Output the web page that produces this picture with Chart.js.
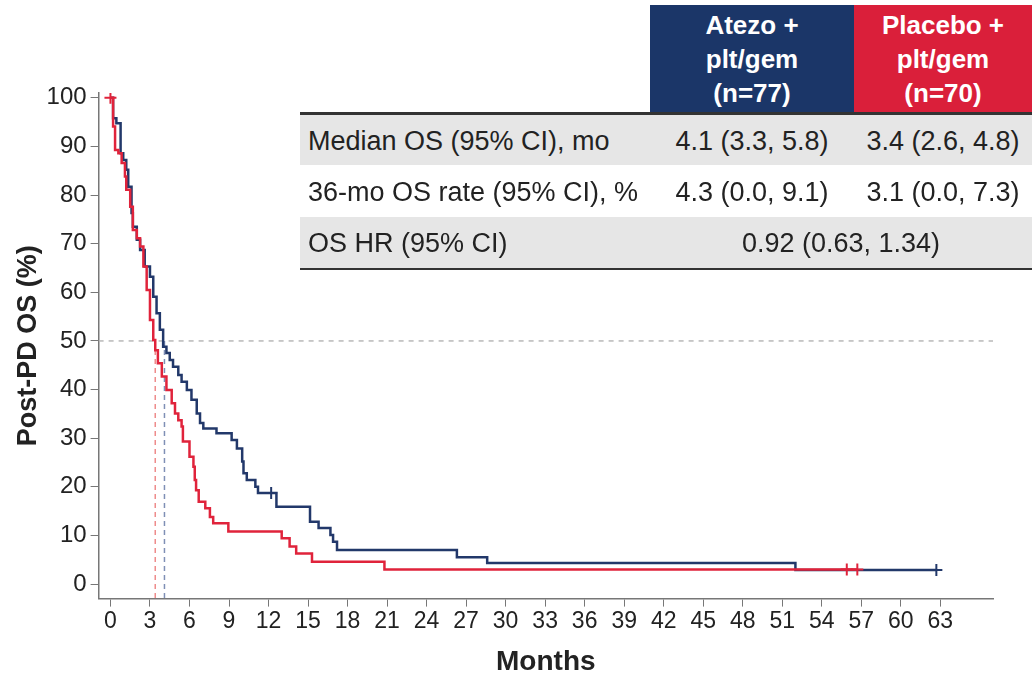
<!DOCTYPE html>
<html>
<head>
<meta charset="utf-8">
<script src="https://cdn.jsdelivr.net/npm/chart.js@4"></script>
<style>
  body { margin: 0; background: #fff; }
  #wrap { position: relative; width: 1032px; height: 679px; font-family: "Liberation Sans", Arial, sans-serif; }
  #chart { position: absolute; left: 0; top: 0; }
  .hdr { position: absolute; top: 5px; height: 107px; color: #fff; font-weight: bold; font-size: 26px;
         line-height: 34px; text-align: center; padding-top: 3px; box-sizing: border-box; }
  .row { position: absolute; left: 300px; width: 732px; font-size: 27px; color: #222; }
  .row span { position: absolute; top: 0; white-space: nowrap; }
</style>
</head>
<body>
<div id="wrap">
  <canvas id="chart" width="1032" height="679"></canvas>
  <div class="hdr" style="left:650px;width:204px;background:#1b3668;">Atezo +<br>plt/gem<br>(n=77)</div>
  <div class="hdr" style="left:854px;width:178px;background:#da1f3a;">Placebo +<br>plt/gem<br>(n=70)</div>
  <div style="position:absolute;left:300px;top:112px;width:732px;height:3px;background:#333;"></div>
  <div class="row" style="top:115px;height:50px;background:#e6e6e6;line-height:52px;">
    <span style="left:8px;">Median OS (95% CI), mo</span>
    <span style="left:350px;width:204px;text-align:center;">4.1 (3.3, 5.8)</span>
    <span style="left:554px;width:178px;text-align:center;">3.4 (2.6, 4.8)</span>
  </div>
  <div class="row" style="top:165px;height:52px;background:#fff;line-height:54px;">
    <span style="left:8px;">36-mo OS rate (95% CI), %</span>
    <span style="left:350px;width:204px;text-align:center;">4.3 (0.0, 9.1)</span>
    <span style="left:554px;width:178px;text-align:center;">3.1 (0.0, 7.3)</span>
  </div>
  <div class="row" style="top:217px;height:51px;background:#e6e6e6;line-height:53px;">
    <span style="left:8px;">OS HR (95% CI)</span>
    <span style="left:350px;width:382px;text-align:center;">0.92 (0.63, 1.34)</span>
  </div>
  <div style="position:absolute;left:300px;top:268px;width:732px;height:2px;background:#333;"></div>
</div>
<script>
// Atezo + plt/gem: KM steps (months, % surviving after the step)
const atezoTimes = [0, 0.2, 0.45, 0.77, 0.97, 1.2, 1.35, 1.6, 1.7, 2.0, 2.25, 2.6, 3.0, 3.25, 3.5, 3.75, 4.0, 4.25, 4.5, 4.75,
  5.15, 5.4, 5.8, 6.15, 6.55, 6.8, 7.05, 8.05, 9.2, 9.6, 10.0, 10.1, 10.35, 11.0, 11.2, 12.6, 15.15, 15.8, 16.7, 16.9,
  17.2, 26.3, 28.6, 52.0, 62.7];
const atezoSurv = [100, 95.8, 94.8, 88.6, 87.2, 85.2, 81.7, 76.3, 73.5, 70.8, 68.7, 65.3, 63.2, 59.1, 55.7, 52.3, 48.8, 47.5, 46.1, 44.7,
  43.0, 41.6, 39.9, 37.9, 35.1, 33.1, 32.0, 31.0, 29.6, 27.9, 25.2, 22.8, 21.4, 20.0, 18.7, 15.9, 12.8, 11.5, 10.1, 8.7,
  7.0, 5.5, 4.3, 2.9, 2.9];
// Placebo + plt/gem
const placeboTimes = [0, 0.2, 0.35, 0.6, 0.85, 1.1, 1.2, 1.5, 1.7, 2.0, 2.25, 2.5, 2.75, 3.0, 3.25, 3.4, 3.6, 3.9, 4.25, 4.65,
  4.9, 5.15, 5.4, 5.5, 6.0, 6.3, 6.4, 6.5, 6.7, 7.2, 7.55, 7.8, 8.95, 13.0, 13.6, 14.1, 15.3, 20.8, 56.7];
const placeboSurv = [100, 94.1, 89.3, 88.6, 86.6, 83.8, 81.1, 77.6, 72.8, 71.1, 69.4, 65.3, 60.5, 54.3, 50.2, 48.1, 45.4, 42.7, 39.9, 37.2,
  35.1, 33.7, 32.4, 29.3, 26.2, 24.1, 21.4, 19.3, 16.9, 15.6, 13.8, 12.5, 10.8, 9.4, 7.7, 6.3, 4.6, 3.0, 3.0];

// censoring marks
const atezoCensTimes = [12.2, 62.7];
const atezoCensSurv = [18.7, 2.9];
const placeboCensTimes = [0, 55.9, 56.7];
const placeboCensSurv = [100, 3.0, 3.0];

const medianAtezo = 4.1;
const medianPlacebo = 3.4;

const xTicks = [0, 3, 6, 9, 12, 15, 18, 21, 24, 27, 30, 33, 36, 39, 42, 45, 48, 51, 54, 57, 60, 63];
const yTicks = [0, 10, 20, 30, 40, 50, 60, 70, 80, 90, 100];

const X_MIN = -0.9, X_MAX = 67, Y_MIN = -3, Y_MAX = 101;
const blue = '#22386a';
const red = '#e0233b';

const pts = (xs, ys) => xs.map((x, i) => ({x: x, y: ys[i]}));

new Chart(document.getElementById('chart'), {
  type: 'line',
  data: {
    datasets: [
      {
        data: pts(atezoTimes, atezoSurv),
        borderColor: blue, borderWidth: 2.5, stepped: true, pointRadius: 0, order: 2
      },
      {
        data: pts(placeboTimes, placeboSurv),
        borderColor: red, borderWidth: 2.5, stepped: true, pointRadius: 0, order: 1
      },
      {
        data: pts(atezoCensTimes, atezoCensSurv), showLine: false,
        pointStyle: 'cross', pointRadius: 6, pointBorderWidth: 2, borderColor: blue, order: 0
      },
      {
        data: pts(placeboCensTimes, placeboCensSurv), showLine: false,
        pointStyle: 'cross', pointRadius: 6, pointBorderWidth: 2, borderColor: red, order: 0
      },
      {
        data: [{x: X_MIN, y: 50}, {x: X_MAX, y: 50}],
        borderColor: '#b8b8b8', borderWidth: 1.5, borderDash: [5, 5], pointRadius: 0, order: 5
      },
      {
        data: [{x: medianPlacebo, y: 50}, {x: medianPlacebo, y: Y_MIN}],
        borderColor: '#ee8c8c', borderWidth: 1.5, borderDash: [5, 4], pointRadius: 0, order: 5
      },
      {
        data: [{x: medianAtezo, y: 50}, {x: medianAtezo, y: Y_MIN}],
        borderColor: '#7f8fb5', borderWidth: 1.5, borderDash: [5, 4], pointRadius: 0, order: 5
      }
    ]
  },
  options: {
    responsive: false,
    animation: false,
    layout: { padding: { top: 93, right: 39, bottom: 0, left: 0 } },
    plugins: { legend: { display: false }, tooltip: { enabled: false } },
    scales: {
      x: {
        type: 'linear', min: X_MIN, max: X_MAX,
        afterBuildTicks: s => { s.ticks = xTicks.map(v => ({value: v})); },
        afterFit: s => { s.height = 679 - 598.6; },
        border: { color: '#777', width: 1.5 },
        grid: { drawOnChartArea: false, drawTicks: true, tickLength: 8, color: '#777' },
        ticks: { color: '#222', font: { size: 23, family: 'Liberation Sans' }, padding: 1, maxRotation: 0, autoSkip: false },
        title: { display: true, text: 'Months', color: '#222',
                 font: { size: 28, weight: 'bold', family: 'Liberation Sans' }, padding: { top: 0, bottom: 0 } }
      },
      y: {
        type: 'linear', min: Y_MIN, max: Y_MAX,
        afterBuildTicks: s => { s.ticks = yTicks.map(v => ({value: v})); },
        afterFit: s => { s.width = 98.6; },
        border: { color: '#777', width: 1.5 },
        grid: { drawOnChartArea: false, drawTicks: true, tickLength: 8, color: '#777' },
        ticks: { color: '#222', font: { size: 24, family: 'Liberation Sans' }, padding: 4 },
        title: { display: true, text: 'Post-PD OS (%)', color: '#222',
                 font: { size: 27, weight: 'bold', family: 'Liberation Sans' }, padding: { top: 12, bottom: 0 } }
      }
    }
  }
});
</script>
</body>
</html>
